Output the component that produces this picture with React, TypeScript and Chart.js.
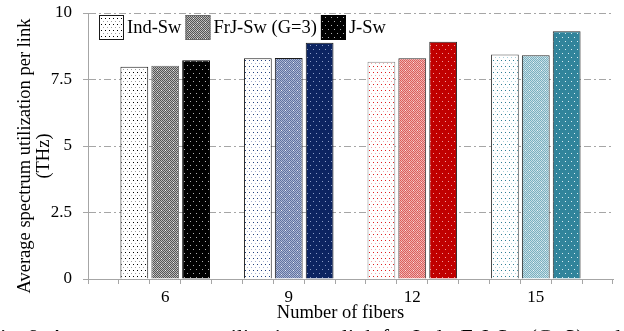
import React, { useEffect, useRef } from 'react';
import { Chart, registerables } from 'chart.js';

Chart.register(...registerables);

// ---- data ----
const groups = ['6', '9', '12', '15'];
const indSw = [7.98, 8.3, 8.17, 8.44];
const frjSw = [8.02, 8.31, 8.3, 8.41];
const jSw = [8.22, 8.88, 8.92, 9.31];
const seriesNames = ['Ind-Sw', 'FrJ-Sw (G=3)', 'J-Sw'];
const yTicks = [0, 2.5, 5, 7.5, 10];
const xTitle = 'Number of fibers';
const yTitle = ['Average spectrum utilization per link', '(THz)'];
const caption = 'Fig. 9. Average spectrum utilization per link for Ind-, FrJ-Sw (G=3) and J-Sw';

// ---- styles per group (dots on white / dither / solid with dots) ----
const dotColors = [
  ['#000000', '#a0a0a0'],
  ['#23407e', '#a6b2d2'],
  ['#e02020', '#f5a8a8'],
  ['#2f7f95', '#a8d0da'],
];
const ditherColors = [
  ['#555555', '#b8b8b8', '#f0f0f0'],
  ['#62739f', '#a8b5d4', '#e8ecf5'],
  ['#d9605e', '#f2afad', '#fbe4e4'],
  ['#7cb0bf', '#c4dfe7', '#f0f8fa'],
];
const solidColors = [
  ['#000000', '#b0b0b0'],
  ['#0c2461', '#8b9cc6'],
  ['#c00000', '#f29a9a'],
  ['#31849b', '#d8ecf1'],
];
const borderColors = [
  ['#1a1a1a', '#6a6a6a', '#000000'],
  ['#1a1a1a', '#1a1a1a', '#1a1a1a'],
  ['#8a8a8a', '#2a2a2a', '#2a2a2a'],
  ['#4a4a4a', '#2a2a2a', '#2a2a2a'],
];

function tile(w: number, h: number, draw: (c: CanvasRenderingContext2D) => void): CanvasPattern {
  const cv = document.createElement('canvas');
  cv.width = w;
  cv.height = h;
  const c = cv.getContext('2d')!;
  draw(c);
  const main = document.createElement('canvas').getContext('2d')!;
  return main.createPattern(cv, 'repeat')!;
}

function dotPattern(col: string[]): CanvasPattern {
  return tile(4, 6, (c) => {
    c.fillStyle = '#ffffff';
    c.fillRect(0, 0, 4, 6);
    c.fillStyle = col[0];
    c.fillRect(1, 0, 1, 1);
    c.fillStyle = col[1];
    c.fillRect(3, 3, 1, 1);
  });
}

function ditherPattern(col: string[]): CanvasPattern {
  return tile(8, 8, (c) => {
    for (let y = 0; y < 8; y++) {
      for (let x = 0; x < 8; x++) {
        c.fillStyle = (x + y) % 2 === 0 ? col[0] : col[1];
        c.fillRect(x, y, 1, 1);
      }
    }
    c.fillStyle = col[2];
    c.fillRect(1, 2, 1, 1);
    c.fillRect(5, 6, 1, 1);
  });
}

function solidPattern(col: string[]): CanvasPattern {
  return tile(6, 8, (c) => {
    c.fillStyle = col[0];
    c.fillRect(0, 0, 6, 8);
    c.fillStyle = col[1];
    c.fillRect(1, 1, 1, 1);
    c.fillRect(4, 5, 1, 1);
  });
}

const FONT = '"Liberation Serif", "Times New Roman", serif';

export default function App() {
  const ref = useRef<HTMLCanvasElement | null>(null);

  useEffect(() => {
    if (!ref.current) return;
    const series = [indSw, frjSw, jSw];
    const fills = groups.map((_, g) => [
      dotPattern(dotColors[g]),
      ditherPattern(ditherColors[g]),
      solidPattern(solidColors[g]),
    ]);
    const slots = groups.length * 4 + 1;
    const labels: string[] = [];
    for (let s = 0; s < slots; s++) labels.push('');
    groups.forEach((g, gi) => {
      labels[gi * 4 + 2] = g;
    });

    const datasets = series.map((vals, si) => {
      const data: (number | null)[] = new Array(slots).fill(null);
      const bg: any[] = new Array(slots).fill(fills[0][si]);
      const bc: string[] = new Array(slots).fill(borderColors[0][si]);
      vals.forEach((v, gi) => {
        const idx = gi * 4 + 1 + si;
        data[idx] = v;
        bg[idx] = fills[gi][si];
        bc[idx] = borderColors[gi][si];
      });
      return {
        label: seriesNames[si],
        data,
        backgroundColor: bg,
        borderColor: bc,
        borderWidth: 1,
        skipNull: true,
        categoryPercentage: 0.9,
        barPercentage: 1,
      };
    });

    const overlay = {
      id: 'overlay',
      afterDraw(chart: any) {
        const { ctx, chartArea } = chart;
        ctx.save();
        ctx.fillStyle = '#000';
        ctx.font = '18.5px ' + FONT;
        ctx.textAlign = 'center';
        ctx.textBaseline = 'middle';
        ctx.fillText(xTitle, (chartArea.left + chartArea.right) / 2 - 10, 313);
        const cy = (chartArea.top + chartArea.bottom) / 2 + 10;
        ctx.save();
        ctx.translate(25, cy);
        ctx.rotate(-Math.PI / 2);
        ctx.fillText(yTitle[0], 0, 0);
        ctx.restore();
        ctx.save();
        ctx.translate(44, cy);
        ctx.rotate(-Math.PI / 2);
        ctx.fillText(yTitle[1], 0, 0);
        ctx.restore();

        // legend
        let x = chartArea.left + 11;
        const top = chartArea.top + 2;
        const box = 25;
        ctx.textAlign = 'left';
        ctx.font = '18.5px ' + FONT;
        chart.data.datasets.forEach((ds: any) => {
          ctx.fillStyle = ds.backgroundColor[0];
          ctx.fillRect(x, top, box, box);
          ctx.strokeStyle = ds.borderColor[0];
          ctx.lineWidth = 1;
          ctx.strokeRect(x + 0.5, top + 0.5, box - 1, box - 1);
          ctx.fillStyle = '#000';
          const tx = x + box + 3;
          ctx.fillText(ds.label, tx, top + box / 2 + 1);
          x = tx + ctx.measureText(ds.label).width + 4;
        });
        ctx.restore();
      },
    };

    const chart = new Chart(ref.current, {
      type: 'bar',
      data: { labels, datasets: datasets as any },
      options: {
        animation: false,
        responsive: false,
        devicePixelRatio: 1,
        layout: { padding: { top: 13, right: 11, left: 0, bottom: 0 } },
        plugins: { legend: { display: false }, tooltip: { enabled: false } },
        scales: {
          x: {
            grid: {
              offset: true,
              drawOnChartArea: false,
              drawTicks: true,
              tickLength: 5,
              color: '#a6a6a6',
              tickColor: '#a6a6a6',
            },
            border: { color: '#a6a6a6', width: 1 },
            ticks: {
              autoSkip: false,
              maxRotation: 0,
              padding: 3,
              color: '#000',
              font: { family: FONT, size: 17 },
            },
            afterFit: (s: any) => {
              s.height = 52;
              s.paddingLeft = 0;
              s.paddingRight = 0;
            },
          },
          y: {
            min: 0,
            max: 10,
            afterBuildTicks: (s: any) => {
              s.ticks = yTicks.map((v) => ({ value: v }));
            },
            grid: {
              color: '#a6a6a6',
              tickColor: '#a6a6a6',
              tickLength: 5,
              tickBorderDash: [],
            },
            border: { color: '#a6a6a6', width: 1, dash: [7, 3, 2, 3] },
            ticks: {
              padding: 11,
              color: '#000',
              font: { family: FONT, size: 17 },
            },
            afterFit: (s: any) => {
              s.width = 88;
              s.paddingTop = 0;
              s.paddingBottom = 0;
            },
          },
        },
      },
      plugins: [overlay],
    } as any);
    return () => chart.destroy();
  }, []);

  return (
    <div
      style={{
        position: 'fixed',
        left: 0,
        top: 0,
        width: 624,
        height: 331,
        overflow: 'hidden',
        background: '#fff',
      }}
    >
      <canvas ref={ref} width={624} height={331} style={{ display: 'block' }} />
      <div
        style={{
          position: 'absolute',
          left: -12,
          top: 326,
          whiteSpace: 'pre',
          fontFamily: FONT,
          fontSize: 22,
          lineHeight: '22px',
          color: '#000',
        }}
      >
        {caption}
      </div>
    </div>
  );
}
